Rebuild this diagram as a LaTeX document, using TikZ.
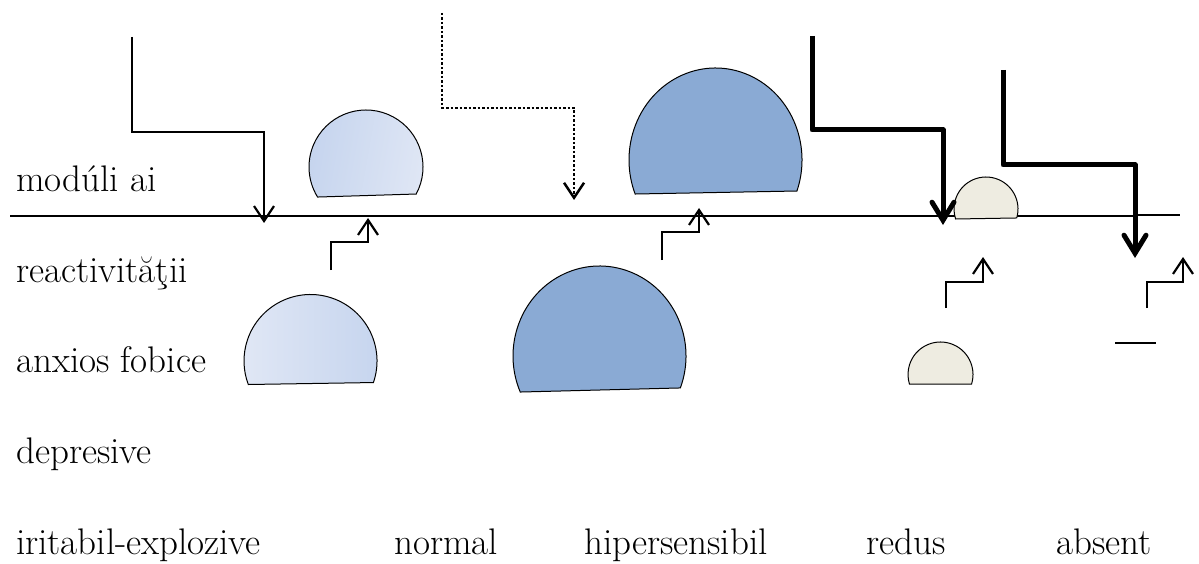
\documentclass[tikz,border=0pt]{standalone}
\usepackage{fontspec}
\usetikzlibrary{arrows.meta}
\definecolor{lightA}{RGB}{197,212,238}
\definecolor{lightB}{RGB}{224,231,245}
\definecolor{darkblue}{RGB}{138,170,212}
\definecolor{beige}{RGB}{238,236,225}
\tikzset{
  lbl/.style={anchor=base west, inner sep=0pt, font=\fontsize{37}{42}\selectfont},
  thinarrow/.style={line width=2.2pt, -{Straight Barb[length=15pt,width=20pt]}},
  thickarrow/.style={line width=5pt, line join=round, -{Straight Barb[length=18pt,width=22pt, line cap=round]}},
  dotarrow/.style={line width=2.5pt, dash pattern=on 2.5pt off 2pt, -{Straight Barb[length=15pt,width=20pt]}},
  stairarrow/.style={line width=2.2pt, -{Straight Barb[length=15pt,width=20pt]}},
  dome/.style={draw=black, line width=1pt}
}
\begin{document}
\begin{tikzpicture}[x=1pt,y=-1pt]
\useasboundingbox (0,0) rectangle (1199,564);

% labels
\node[lbl] (l1) at (16,192) {modúli ai};
\node[lbl] (l2) at (16,282) {reactivităţii};
\node[lbl] (l3) at (16,372) {anxios fobice};
\node[lbl] (l4) at (16,463) {depresive};
\node[lbl] (l5) at (16,554) {iritabil-explozive};
\node[lbl] (n1) at (394,554) {normal};
\node[lbl] (n2) at (584,554) {hipersensibil};
\node[lbl] (n3) at (866,554) {redus};
\node[lbl] (n4) at (1056,554) {absent};

% main horizontal line
\coordinate (hl) at (10,216);
\coordinate (hm) at (1138,216);
\coordinate (hm2) at (1138,215);
\coordinate (hr) at (1180,215);
\draw[line width=2.2pt] (hl) -- (hm);
\draw[line width=2.2pt] (hm2) -- (hr);

% domes
\path[dome, left color=lightA, right color=lightB, shading angle=80]
  (366,167) ++(28.3:57) arc[start angle=28.3, end angle=-211.8, radius=57] -- cycle;
\path[dome, left color=lightB, right color=lightA]
  (310.5,361) ++(18.9:66.5) arc[start angle=18.9, end angle=-200.7, radius=66.5] -- cycle;
\draw[dome, fill=darkblue]
  (715.5,160) ++(19.7:86.5 and 92) arc[start angle=19.7, end angle=-201.7, x radius=86.5, y radius=92] -- cycle;
\draw[dome, fill=darkblue]
  (599.5,356) ++(20.8:86.5 and 90) arc[start angle=20.8, end angle=-203.6, x radius=86.5, y radius=90] -- cycle;
\draw[dome, fill=beige]
  (986,209) ++(16.3:32) arc[start angle=16.3, end angle=-198.2, radius=32] -- cycle;
\draw[dome, fill=beige]
  (940.5,374.5) ++(17:32.5) arc[start angle=17, end angle=-197, radius=32.5] -- cycle;

% down arrows
\coordinate (a1s) at (132,37);   \coordinate (a1e) at (264,223);
\draw[thinarrow] (a1s) |- (264,132) -- (a1e);
\coordinate (a2s) at (442,13);   \coordinate (a2e) at (574,200);
\draw[dotarrow] (a2s) |- (574,108) -- (a2e);
\coordinate (a3s) at (812,36);   \coordinate (a3e) at (943,225);
\draw[thickarrow] (a3s) |- (943,130) -- (a3e);
\coordinate (a4s) at (1003,70);  \coordinate (a4e) at (1135,258);
\draw[thickarrow] (a4s) |- (1135,165) -- (a4e);

% stair arrows
\coordinate (s1s) at (331,270);  \coordinate (s1e) at (368,218);
\draw[stairarrow] (s1s) |- (368,242) -- (s1e);
\coordinate (s2s) at (662,260);  \coordinate (s2e) at (699,208);
\draw[stairarrow] (s2s) |- (699,232) -- (s2e);
\coordinate (s3s) at (946,308);  \coordinate (s3e) at (983,257);
\draw[stairarrow] (s3s) |- (983,282) -- (s3e);
\coordinate (s4s) at (1147,308); \coordinate (s4e) at (1183,257);
\draw[stairarrow] (s4s) |- (1183,282) -- (s4e);

% short dash
\coordinate (d1) at (1115,343); \coordinate (d2) at (1156,343);
\draw[line width=2.2pt] (d1) -- (d2);
\end{tikzpicture}
\end{document}
